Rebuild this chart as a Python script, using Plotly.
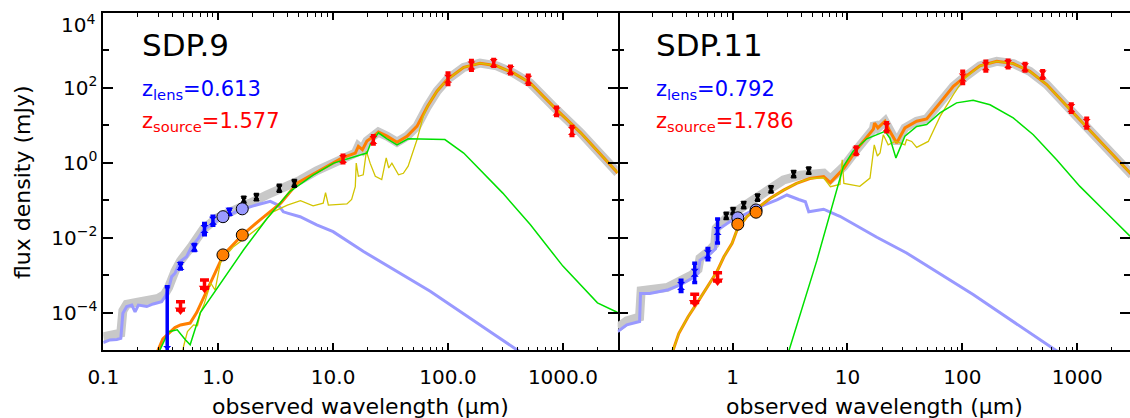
import numpy as np
import plotly.graph_objects as go

# ---------------- SDP.9 (left panel) ----------------  (fluxes as log10 mJy, wavelengths in micron)
l_lens_lam = [0.100, 0.114, 0.131, 0.142, 0.148, 0.160, 0.177, 0.189, 0.202, 0.239, 0.272, 0.322, 0.344, 0.368,
              0.394, 0.421, 0.465, 0.531, 0.587, 0.672, 0.74, 0.85, 0.97, 1.19, 1.55, 2.02, 2.49, 2.84, 3.34,
              3.69, 4.08, 5.16, 7.2, 10.0, 18.4, 70, 268, 500]
l_lens_logf = [-4.80, -4.73, -4.72, -4.69, -4.02, -3.84, -3.80, -3.98, -3.80, -3.84, -3.77, -3.71, -3.58, -3.40,
               -3.04, -2.95, -2.64, -2.51, -2.24, -2.02, -1.80, -1.66, -1.55, -1.42, -1.26, -1.15, -1.08, -1.03,
               -1.13, -1.31, -1.35, -1.44, -1.66, -1.84, -2.37, -3.43, -4.64, -5.2]

l_src_lam = [0.28, 0.30, 0.33, 0.37, 0.42, 0.47, 0.57, 0.65, 0.75, 0.91, 1.11, 1.62, 2.3, 3.5, 4.9, 7.3, 9.4, 12,
             15.6, 16.6, 18, 19.7, 22.6, 24.8, 29.5, 36, 44, 53.8, 66.4, 80.2, 98.3, 137, 190, 265, 370, 520, 880,
             1430, 3000]
l_src_logf = [-5.6, -5.0, -4.7, -4.55, -4.40, -4.33, -4.28, -4.0, -3.58, -3.04, -2.46, -1.93, -1.53, -1.08, -0.54,
              -0.24, -0.04, 0.13, 0.26, 0.44, 0.35, 0.58, 0.71, 0.82, 0.71, 0.55, 0.71, 0.98, 1.51, 1.91, 2.22,
              2.55, 2.66, 2.59, 2.40, 2.13, 1.42, 0.80, -0.27]

l_tot_lam = [0.100, 0.142, 0.148, 0.160, 0.20, 0.30, 0.34, 0.37, 0.42, 0.47, 0.59, 0.74, 0.97, 1.35, 1.89, 2.64,
             3.7, 5.2, 7.2, 10.0, 12, 15.6, 16.6, 18, 19.7, 22.6, 24.8, 29.5, 36, 44, 53.8, 66.4, 80.2, 98.3, 137,
             190, 265, 370, 520, 880, 1430, 3000]
l_tot_logf = [-4.65, -4.55, -3.95, -3.78, -3.72, -3.62, -3.52, -3.33, -2.90, -2.62, -2.22, -1.78, -1.48, -1.25,
              -1.08, -0.86, -0.68, -0.46, -0.21, -0.02, 0.13, 0.26, 0.44, 0.35, 0.58, 0.71, 0.82, 0.71, 0.55, 0.71,
              0.98, 1.51, 1.91, 2.22, 2.55, 2.66, 2.59, 2.40, 2.13, 1.42, 0.80, -0.27]

l_dust_lam = [0.28, 0.30, 0.37, 0.44, 0.52, 0.57, 0.70, 1.05, 1.66, 2.67, 4.2, 6.7, 10.1, 17.2, 19.7, 21, 24.8,
              29.5, 36, 45, 69, 94, 137, 190, 300, 520, 1000, 2000, 3000]
l_dust_logf = [-5.5, -5.1, -4.51, -4.46, -4.73, -4.86, -4.0, -3.21, -2.33, -1.48, -0.77, -0.33, -0.01, 0.21, 0.26,
               0.48, 0.80, 0.64, 0.48, 0.64, 0.64, 0.62, 0.26, -0.18, -0.81, -1.65, -2.76, -3.74, -4.0]

l_star_lam = [0.45, 0.50, 0.54, 0.61, 0.66, 0.70, 0.75, 0.80, 0.86, 0.94, 1.05, 1.36, 1.79, 2.3, 3.0, 4.0, 5.2,
              6.7, 8.2, 8.6, 9.1, 13.2, 14.5, 15.6, 15.9, 16.6, 18.3, 19.5, 21, 23.3, 26.5, 29, 30.5, 32.5, 37.1,
              40.9, 45, 53.8, 61, 66.4, 80.2, 98.3, 137, 190, 265, 370, 520, 880, 1430, 3000]
l_star_logf = [-5.6, -4.9, -4.51, -4.33, -4.35, -4.0, -3.8, -3.55, -3.21, -3.40, -2.64, -2.24, -1.97, -1.71, -1.31,
               -1.13, -1.01, -1.15, -1.08, -0.80, -1.13, -1.10, -0.98, -0.64, -0.01, -0.36, -0.32, 0.31, -0.01,
               -0.36, -0.45, 0.13, -0.14, -0.01, -0.32, -0.28, -0.09, 0.62, 1.25, 1.51, 1.91, 2.22, 2.55, 2.66,
               2.59, 2.40, 2.13, 1.42, 0.80, -0.27]

l_blue_lam = [0.36, 0.47, 0.62, 0.76, 0.90, 1.25]
l_blue_logf = [-5.0, -2.76, -2.26, -1.77, -1.55, -1.31]
l_blue_eup = [1.69, 0.08, 0.08, 0.15, 0.12, 0.07]
l_blue_edn = [1.0, 0.08, 0.08, 0.15, 0.12, 0.07]

l_black_lam = [1.67, 2.15, 3.4, 4.6]
l_black_logf = [-0.99, -0.92, -0.68, -0.55]
l_black_err = [0.07, 0.07, 0.08, 0.08]

l_red_lam = [12.2, 22.4, 100, 160, 250, 350, 500, 880, 1200]
l_red_logf = [0.10, 0.61, 2.245, 2.60, 2.665, 2.48, 2.22, 1.37, 0.85]
l_red_err = [0.10, 0.11, 0.155, 0.13, 0.09, 0.10, 0.12, 0.11, 0.12]

l_ul_lam = [0.47, 0.76]
l_ul_logf = [-3.71, -3.13]

l_circ_lam = [1.10, 1.62]
l_circ_lens_logf = [-1.44, -1.23]
l_circ_src_logf = [-2.46, -1.93]

# ---------------- SDP.11 (right panel) ----------------
r_lens_lam = [0.10, 0.12, 0.155, 0.158, 0.19, 0.27, 0.35, 0.44, 0.50, 0.52, 0.62, 0.71, 0.72, 0.78, 0.95, 1.09,
              1.43, 1.87, 2.43, 2.97, 3.76, 4.3, 4.6, 6.2, 8.1, 8.6, 18, 32.7, 124, 640, 900]
r_lens_logf = [-4.51, -4.33, -4.24, -3.49, -3.49, -3.40, -3.26, -3.09, -2.95, -2.60, -2.46, -2.30, -1.80, -1.75,
               -1.57, -1.48, -1.31, -1.13, -0.99, -0.86, -0.98, -1.04, -1.31, -1.24, -1.40, -1.43, -1.99, -2.41,
               -3.52, -4.99, -5.3]

r_src_lam = [0.28, 0.30, 0.34, 0.41, 0.49, 0.60, 0.73, 0.84, 0.99, 1.09, 1.33, 1.63, 2.13, 2.78, 3.6, 4.7, 6.2,
             7.1, 9.3, 12.0, 16.8, 17.2, 18.4, 21.2, 23.4, 26.8, 31.6, 40, 48.9, 63.8, 83.4, 102, 142, 199, 277,
             387, 542, 925, 1476, 2877, 3000]
r_src_logf = [-5.6, -5.05, -4.56, -4.11, -3.75, -3.31, -2.91, -2.51, -2.15, -1.80, -1.44, -1.22, -0.95, -0.73,
              -0.55, -0.42, -0.37, -0.53, -0.15, 0.35, 0.90, 1.06, 0.93, 1.11, 0.84, 0.53, 0.93, 1.11, 1.17, 1.60,
              2.04, 2.26, 2.59, 2.71, 2.65, 2.44, 2.09, 1.33, 0.66, -0.27, -0.33]

r_tot_lam = [0.10, 0.12, 0.155, 0.16, 0.27, 0.35, 0.44, 0.50, 0.52, 0.62, 0.70, 0.72, 0.88, 1.43, 2.0, 2.78, 3.9,
             6.2, 7.1, 9.3, 12.0, 16.8, 17.2, 18.4, 21.2, 23.4, 26.8, 31.6, 40, 48.9, 63.8, 83.4, 102, 142, 199,
             277, 387, 542, 925, 1476, 2877, 3000]
r_tot_logf = [-4.40, -4.22, -4.12, -3.42, -3.33, -3.18, -3.00, -2.85, -2.55, -2.36, -2.18, -1.75, -1.48, -1.04,
              -0.73, -0.46, -0.33, -0.28, -0.44, -0.10, 0.35, 0.90, 1.06, 0.93, 1.11, 0.84, 0.53, 0.93, 1.11, 1.17,
              1.60, 2.04, 2.26, 2.59, 2.71, 2.65, 2.44, 2.09, 1.33, 0.66, -0.27, -0.33]

r_dust_lam = [2.9, 3.07, 5.4, 8.6, 9.2, 11.2, 14.7, 21.2, 23.4, 26.4, 31.6, 40, 48.9, 63.8, 89, 124, 174, 277, 414,
              661, 1054, 1802, 2877]
r_dust_logf = [-5.6, -5.05, -2.62, -0.41, -0.10, 0.31, 0.64, 0.84, 0.66, 0.13, 0.71, 0.97, 1.02, 1.33, 1.60, 1.67,
               1.55, 1.20, 0.75, 0.08, -0.63, -1.34, -1.96]

r_star_lam = [0.28, 0.30, 0.34, 0.41, 0.49, 0.60, 0.73, 0.84, 0.99, 1.09, 1.33, 1.63, 2.13, 2.78, 3.6, 4.7, 6.2,
              7.1, 8.6, 9.0, 9.3, 12.8, 15.7, 17.1, 18.2, 19.2, 20.5, 22.6, 25.9, 28.6, 31.6, 32.7, 36.2, 40, 47.3,
              50.5, 64, 83.4, 102, 142, 199, 277, 387, 542, 925, 1476, 2877]
r_star_logf = [-5.6, -5.05, -4.56, -4.11, -3.75, -3.31, -2.91, -2.51, -2.15, -1.80, -1.44, -1.22, -0.95, -0.73,
               -0.55, -0.42, -0.40, -0.64, -0.58, 0.08, -0.55, -0.63, -0.41, 0.48, 0.18, 0.26, 0.75, 0.48, 0.57,
               0.53, 0.48, 0.62, 0.57, 0.41, 0.53, 0.57, 1.24, 1.82, 2.22, 2.59, 2.71, 2.65, 2.44, 2.09, 1.33, 0.66,
               -0.27]

r_blue_lam = [0.356, 0.468, 0.61, 0.74]
r_blue_logf = [-3.29, -2.94, -2.44, -1.82]
r_blue_eup = [0.15, 0.26, 0.15, 0.32]
r_blue_edn = [0.15, 0.26, 0.15, 0.32]

r_black_lam = [0.88, 1.01, 1.25, 1.65, 2.16, 3.4, 4.6]
r_black_logf = [-1.42, -1.29, -1.13, -0.93, -0.71, -0.30, -0.21]
r_black_err = [0.07, 0.07, 0.07, 0.07, 0.07, 0.07, 0.07]

r_red_lam = [11.9, 21.9, 100.7, 160, 250, 351, 500, 887, 1208]
r_red_logf = [0.32, 0.95, 2.28, 2.58, 2.64, 2.55, 2.36, 1.46, 1.06]
r_red_err = [0.10, 0.12, 0.165, 0.13, 0.10, 0.10, 0.10, 0.11, 0.13]

r_ul_lam = [0.468, 0.74]
r_ul_logf = [-3.51, -2.94]

r_circ_lam = [1.11, 1.60]
r_circ_lens_logf = [-1.47, -1.26]
r_circ_src_logf = [-1.64, -1.32]

x_major = [0.1, 1, 10, 100, 1000]
x_text_left = ["0.1", "1.0", "10.0", "100.0", "1000.0"]
x_text_right = ["", "1", "10", "100", "1000"]
y_major = [1e-4, 1e-2, 1, 1e2, 1e4]
y_text = ["10<sup>\u22124</sup>", "10<sup>\u22122</sup>", "10<sup>0</sup>", "10<sup>2</sup>", ""]
y_minor = [1e-3, 1e-1, 10, 1e3]

FONT = "DejaVu Sans"
GRAY = "#c8c8c8"
LENS = "#9999ff"
ORANGE = "#ff7f00"
YELLOW = "#d2c400"
GREEN = "#00e000"

fig = go.Figure()


def P(a):
    return np.power(10.0, np.array(a, dtype=float))


def line(lam, logf, color, width, xa, ya):
    fig.add_trace(go.Scatter(x=lam, y=P(logf), mode="lines", line=dict(color=color, width=width),
                             xaxis=xa, yaxis=ya, showlegend=False, hoverinfo="skip"))


def errpts(lam, logf, eup, edn, color, xa, ya, size=8):
    y = P(logf)
    plus = y * (P(eup) - 1)
    minus = y * (1 - 1 / P(edn))
    fig.add_trace(go.Scatter(x=lam, y=y, mode="markers",
                             marker=dict(symbol="hourglass", size=size, color=color),
                             error_y=dict(type="data", symmetric=False, array=plus, arrayminus=minus,
                                          color=color, thickness=3.5, width=2.5),
                             xaxis=xa, yaxis=ya, showlegend=False, hoverinfo="skip"))


def upper(lam, logf, xa, ya):
    top = P(logf)
    y = top / 10 ** 0.22
    fig.add_trace(go.Scatter(x=lam, y=y, mode="markers",
                             marker=dict(symbol="triangle-down", size=10, color="red"),
                             error_y=dict(type="data", symmetric=False, array=top - y, arrayminus=[0] * len(lam),
                                          color="red", thickness=3.5, width=4.5),
                             xaxis=xa, yaxis=ya, showlegend=False, hoverinfo="skip"))


def circles(lam, logf, color, xa, ya):
    fig.add_trace(go.Scatter(x=lam, y=P(logf), mode="markers",
                             marker=dict(symbol="circle", size=12, color=color, line=dict(color="black", width=1)),
                             xaxis=xa, yaxis=ya, showlegend=False, hoverinfo="skip"))


def panel(xa, ya, tot, lens, src, star, dust, blue, black, red, ul, circ):
    line(tot[0], tot[1], GRAY, 9, xa, ya)
    line(lens[0], lens[1], LENS, 3, xa, ya)
    line(src[0], src[1], ORANGE, 3, xa, ya)
    line(star[0], star[1], YELLOW, 1.3, xa, ya)
    line(dust[0], dust[1], GREEN, 1.5, xa, ya)
    errpts(blue[0], blue[1], blue[2], blue[3], "#0000ff", xa, ya)
    errpts(black[0], black[1], black[2], black[2], "black", xa, ya, size=7)
    errpts(red[0], red[1], red[2], red[2], "red", xa, ya)
    upper(ul[0], ul[1], xa, ya)
    circles(circ[0], circ[1], LENS, xa, ya)
    circles(circ[0], circ[2], ORANGE, xa, ya)


panel("x", "y", (l_tot_lam, l_tot_logf), (l_lens_lam, l_lens_logf), (l_src_lam, l_src_logf),
      (l_star_lam, l_star_logf), (l_dust_lam, l_dust_logf),
      (l_blue_lam, l_blue_logf, l_blue_eup, l_blue_edn), (l_black_lam, l_black_logf, l_black_err),
      (l_red_lam, l_red_logf, l_red_err), (l_ul_lam, l_ul_logf),
      (l_circ_lam, l_circ_lens_logf, l_circ_src_logf))
panel("x2", "y2", (r_tot_lam, r_tot_logf), (r_lens_lam, r_lens_logf), (r_src_lam, r_src_logf),
      (r_star_lam, r_star_logf), (r_dust_lam, r_dust_logf),
      (r_blue_lam, r_blue_logf, r_blue_eup, r_blue_edn), (r_black_lam, r_black_logf, r_black_err),
      (r_red_lam, r_red_logf, r_red_err), (r_ul_lam, r_ul_logf),
      (r_circ_lam, r_circ_lens_logf, r_circ_src_logf))

W, H = 1130, 418
x0L, x1L = 103.3, 617.7
dec = (x1L - x0L) / np.log10(30000)
x1R = W
minor_x = [m * 10.0 ** e for e in range(-1, 4) for m in range(2, 10)]

xcommon = dict(type="log", showline=True, linecolor="black", linewidth=2, mirror="allticks",
               ticks="inside", ticklen=7, tickwidth=1.5, tickcolor="black", showgrid=False, zeroline=False,
               tickmode="array", tickvals=x_major, automargin=False, ticklabelstandoff=8,
               tickfont=dict(family=FONT, size=20, color="black"),
               minor=dict(ticks="inside", ticklen=3.5, tickwidth=1.2, tickcolor="black",
                          tickvals=minor_x, showgrid=False))
ycommon = dict(type="log", range=[-5, 4], linecolor="black", linewidth=2, mirror="allticks",
               ticks="inside", ticklen=10, tickwidth=1.5, tickcolor="black", showgrid=False, zeroline=False,
               tickmode="array", tickvals=y_major, ticktext=y_text, automargin=False,
               tickfont=dict(family=FONT, size=20, color="black"),
               minor=dict(ticks="inside", ticklen=6, tickwidth=1.5, tickcolor="black",
                          tickvals=y_minor, showgrid=False))

fig.update_layout(
    width=W, height=H, margin=dict(l=0, r=0, t=13, b=68, autoexpand=False),
    paper_bgcolor="white", plot_bgcolor="white",
    xaxis=dict(xcommon, domain=[x0L / W, x1L / W], range=[-1, np.log10(3000)], ticktext=x_text_left,
               anchor="y"),
    xaxis2=dict(xcommon, domain=[x1L / W, 1.0], range=[-1, -1 + (x1R - x1L) / dec], ticktext=x_text_right,
                anchor="y2"),
    yaxis=dict(ycommon, anchor="x", domain=[0, 1], showline=True),
    yaxis2=dict(ycommon, anchor="x2", domain=[0, 1], showline=False, showticklabels=False),
    font=dict(family=FONT, color="black"),
)


def py2paper(py):
    return (350 - py) / 337.0


ann = []
ann.append(dict(text="10<sup>4</sup>", x=97 / W, y=py2paper(24), xref="paper", yref="paper",
                xanchor="right", yanchor="middle", showarrow=False, font=dict(family=FONT, size=20)))
ann.append(dict(text="flux density (mJy)", x=22 / W, y=py2paper(182), xref="paper", yref="paper",
                textangle=-90, xanchor="center", yanchor="middle", showarrow=False,
                font=dict(family=FONT, size=22)))
for cx in [(x0L + x1L) / 2, (x1L + x1L + (x1L - x0L)) / 2]:
    ann.append(dict(text="observed wavelength (\u03bcm)", x=cx / W, y=py2paper(406), xref="paper",
                    yref="paper", xanchor="center", yanchor="middle", showarrow=False,
                    font=dict(family=FONT, size=22)))

labels = [(140, "SDP.9", "0.613", "1.577"), (654, "SDP.11", "0.792", "1.786")]
for lx, name, zl, zs in labels:
    ann.append(dict(text=name, x=lx / W, y=py2paper(45), xref="paper", yref="paper", xanchor="left",
                    yanchor="middle", showarrow=False, font=dict(family=FONT, size=31, color="black")))
    ann.append(dict(text="z<sub>lens</sub>=" + zl, x=lx / W, y=py2paper(90), xref="paper", yref="paper",
                    xanchor="left", yanchor="middle", showarrow=False,
                    font=dict(family=FONT, size=21, color="#0000ff")))
    ann.append(dict(text="z<sub>source</sub>=" + zs, x=lx / W, y=py2paper(122), xref="paper", yref="paper",
                    xanchor="left", yanchor="middle", showarrow=False,
                    font=dict(family=FONT, size=21, color="#ff0000")))
fig.update_layout(annotations=ann)

fig.write_html("out.html", config={"displayModeBar": False},
               post_script="document.body.style.margin='0px';document.body.style.overflow='hidden';")
